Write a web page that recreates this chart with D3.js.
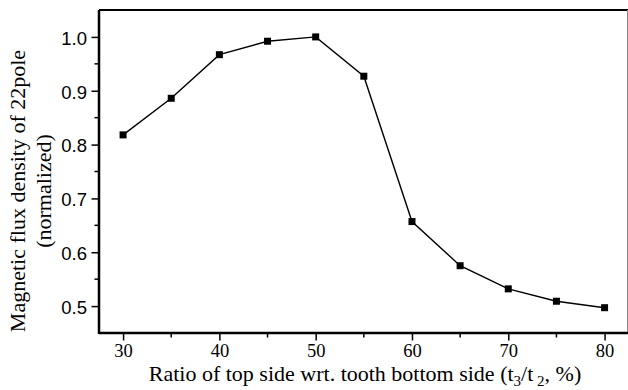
<!DOCTYPE html>
<html>
<head>
<meta charset="utf-8">
<script src="https://cdn.jsdelivr.net/npm/d3@7"></script>
<style>
  body { margin: 0; background: #fff; }
  svg { display: block; }
</style>
</head>
<body>
<div id="chart"></div>
<script>
const ratios = [30, 35, 40, 45, 50, 55, 60, 65, 70, 75, 80];
const fluxDensity = [0.818, 0.886, 0.967, 0.992, 1.0, 0.927, 0.657, 0.575, 0.532, 0.509, 0.497];
const xTicks = [30, 40, 50, 60, 70, 80];
const yTicks = [0.5, 0.6, 0.7, 0.8, 0.9, 1.0];

const width = 628, height = 390;
const margin = { top: 10, right: 0, bottom: 57, left: 99 };
const innerW = width - margin.left - margin.right;
const innerH = height - margin.top - margin.bottom;

const svg = d3.select('#chart').append('svg')
  .attr('width', width)
  .attr('height', height);

const g = svg.append('g')
  .attr('transform', `translate(${margin.left},${margin.top})`);

const x = d3.scaleLinear().domain([27.5, 82.5]).range([0, 9.63 * 55]);
const y = d3.scaleLinear().domain([0.45, 1.05]).range([innerH, 0]);

const serif = '"Liberation Serif", "Times New Roman", serif';
const sans = '"Liberation Sans", Arial, sans-serif';

// frame: thick top, thin grey right
g.append('line')
  .attr('x1', 0).attr('x2', innerW)
  .attr('y1', 0).attr('y2', 0)
  .attr('stroke', '#000').attr('stroke-width', 2);
g.append('line')
  .attr('x1', innerW - 0.5).attr('x2', innerW - 0.5)
  .attr('y1', 0).attr('y2', innerH)
  .attr('stroke', '#888').attr('stroke-width', 1);

// minor ticks
const xMinor = d3.range(35, 80, 10);
const yMinor = d3.range(0.55, 1.01, 0.1);

g.append('g').selectAll('line').data(xMinor).join('line')
  .attr('x1', d => x(d)).attr('x2', d => x(d))
  .attr('y1', innerH).attr('y2', innerH + 4.5)
  .attr('stroke', '#000').attr('stroke-width', 1.5);

g.append('g').selectAll('line').data(yMinor).join('line')
  .attr('x1', 0).attr('x2', -4.5)
  .attr('y1', d => y(d)).attr('y2', d => y(d))
  .attr('stroke', '#000').attr('stroke-width', 1.5);

const xAxisG = g.append('g')
  .attr('transform', `translate(0,${innerH})`)
  .call(d3.axisBottom(x).tickValues(xTicks).tickSize(7.5).tickSizeOuter(0).tickFormat(d3.format('d')));
xAxisG.select('.domain').attr('stroke-width', 2.5).attr('d', `M0,0H${innerW}`);
xAxisG.selectAll('.tick line').attr('stroke-width', 1.5);
xAxisG.selectAll('.tick text')
  .attr('dy', null).attr('y', 24)
  .style('font-family', serif)
  .style('font-size', '18.5px').attr('fill', '#000');

const yAxisG = g.append('g')
  .call(d3.axisLeft(y).tickValues(yTicks).tickSize(7.5).tickSizeOuter(0).tickFormat(d3.format('.1f')));
yAxisG.select('.domain').attr('stroke-width', 2.5).attr('d', `M0,${innerH + 1}V0`);
yAxisG.selectAll('.tick line').attr('stroke-width', 1.5);
yAxisG.selectAll('.tick text')
  .attr('x', -12).attr('dy', '0.4em')
  .style('font-family', sans)
  .style('font-size', '18.5px').attr('fill', '#000');

// line + markers
const line = d3.line()
  .x((d, i) => x(ratios[i]))
  .y(d => y(d));

g.append('path')
  .datum(fluxDensity)
  .attr('fill', 'none')
  .attr('stroke', '#000')
  .attr('stroke-width', 1.4)
  .attr('d', line);

const ms = 7;
g.append('g').selectAll('rect').data(fluxDensity).join('rect')
  .attr('x', (d, i) => x(ratios[i]) - ms / 2)
  .attr('y', d => y(d) - ms / 2)
  .attr('width', ms).attr('height', ms)
  .attr('fill', '#000');

// axis titles
const xLabel = svg.append('text')
  .attr('x', 365)
  .attr('y', 381)
  .attr('text-anchor', 'middle')
  .style('font-family', serif)
  .style('font-size', '22px')
  .attr('fill', '#000');
xLabel.append('tspan').text('Ratio of top side wrt. tooth bottom side (t');
xLabel.append('tspan').attr('baseline-shift', '-30%').style('font-size', '15px').text('3');
xLabel.append('tspan').text('/t');
xLabel.append('tspan').attr('baseline-shift', '-30%').style('font-size', '15px').text(' 2');
xLabel.append('tspan').text(', %)');

const yLabel = svg.append('text')
  .attr('transform', 'translate(0,191) rotate(-90)')
  .attr('text-anchor', 'middle')
  .style('font-family', serif)
  .style('font-size', '22px')
  .attr('fill', '#000');
yLabel.append('tspan').attr('x', 0).attr('y', 25).text('Magnetic flux density of 22pole');
yLabel.append('tspan').attr('x', 0).attr('y', 51).text('(normalized)');
</script>
</body>
</html>
